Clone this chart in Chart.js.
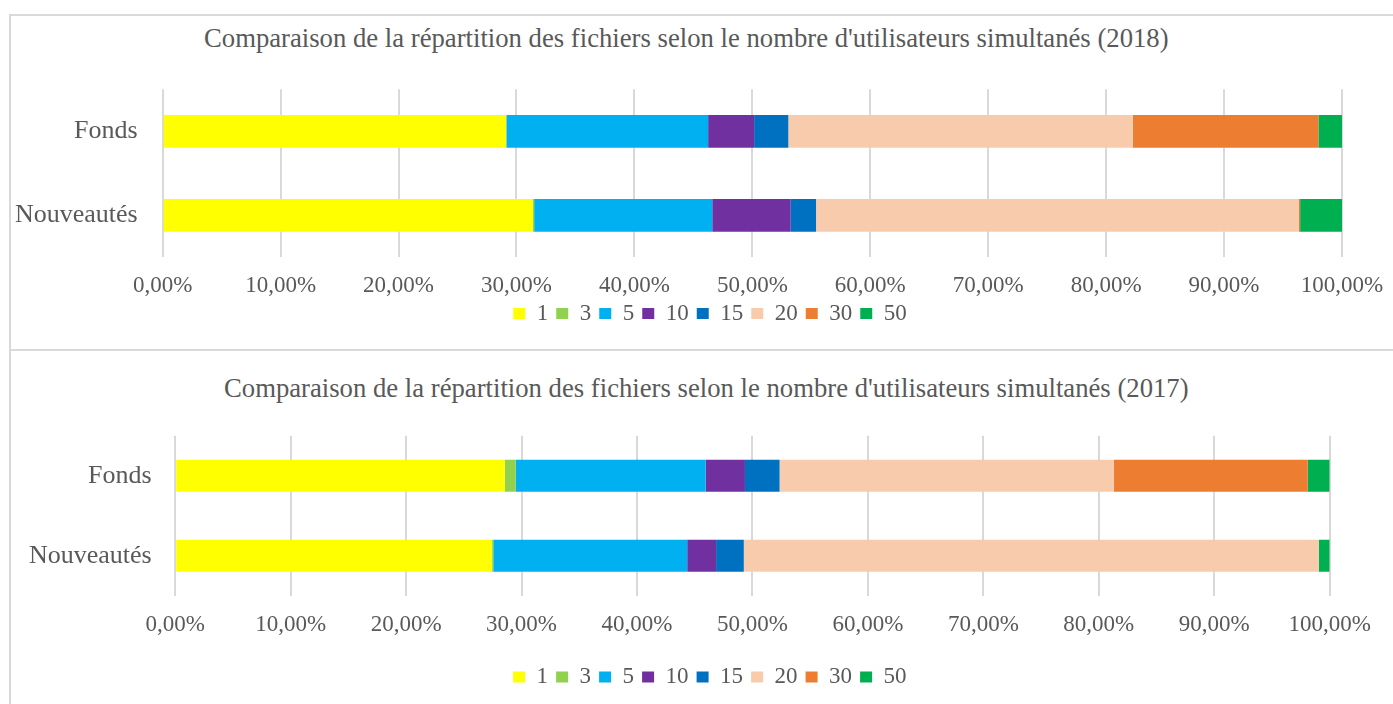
<!DOCTYPE html>
<html lang="fr">
<head>
<meta charset="utf-8">
<title>Répartition des fichiers</title>
<script src="https://cdn.jsdelivr.net/npm/chart.js@4.4.1/dist/chart.umd.min.js"></script>
<style>
  body { margin: 0; width: 1393px; height: 704px; overflow: hidden; background: #fff; font-family: "Liberation Serif", "Times New Roman", serif; }
  .frame { position: absolute; border: 2px solid #d9d9d9; box-sizing: border-box; }
  .title { position: absolute; white-space: nowrap; color: #595959; font-size: 26.7px; line-height: 30px; }
  .wrap { position: absolute; }
</style>
</head>
<body>
<div class="frame" style="left:9px; top:14px; width:1420px; height:337px;"></div>
<div class="frame" style="left:9px; top:349px; width:1420px; height:400px;"></div>

<div class="title" style="left:204px; top:23px;">Comparaison de la répartition des fichiers selon le nombre d'utilisateurs simultanés (2018)</div>
<div class="wrap" style="left:10px; top:16px; width:1400px; height:334px;"><canvas id="chart2018"></canvas></div>

<div class="title" style="left:224px; top:373px;">Comparaison de la répartition des fichiers selon le nombre d'utilisateurs simultanés (2017)</div>
<div class="wrap" style="left:10px; top:351px; width:1400px; height:353px;"><canvas id="chart2017"></canvas></div>

<script>
// Données (en %)
const categories = ['Fonds', 'Nouveautés'];
const seriesNames = ['1', '3', '5', '10', '15', '20', '30', '50'];
const tickValues = [0, 10, 20, 30, 40, 50, 60, 70, 80, 90, 100];

const fonds2018 = [29.1, 0.05, 17.1, 3.9, 2.9, 29.2, 15.75, 2.0];
const nouveautes2018 = [31.4, 0.1, 15.1, 6.65, 2.15, 40.95, 0.1, 3.55];

const fonds2017 = [28.55, 0.95, 16.45, 3.4, 3.0, 28.95, 16.8, 1.9];
const nouveautes2017 = [27.45, 0.1, 16.8, 2.5, 2.4, 49.8, 0, 0.95];

// Couleurs Office
const seriesColors = ['#FFFF00', '#92D050', '#00B0F0', '#7030A0', '#0070C0', '#F8CBAD', '#ED7D31', '#00B050'];

const FONT = "'Liberation Serif', 'Times New Roman', serif";
const TEXT = '#595959';

const formatPct = (v) => Number(v).toFixed(2).replace('.', ',') + '%';

// décale la légende (centrée sur tout le cadre comme dans Excel, pas sur le canvas)
const legendShift = {
    id: 'legendShift',
    afterLayout(chart, args, opts) {
        const lg = chart.legend;
        if (!lg) return;
        lg.left += opts.dx; lg.right += opts.dx;
        lg.top += opts.dy; lg.bottom += opts.dy;
    }
};

function makeChart(id, fondsVals, nouvVals, lay) {
    const ctx = document.getElementById(id).getContext('2d');
    return new Chart(ctx, {
        type: 'bar',
        data: {
            labels: categories,
            datasets: seriesNames.map((name, i) => ({
                label: name,
                data: [fondsVals[i], nouvVals[i]],
                backgroundColor: seriesColors[i],
                borderWidth: 0,
                barPercentage: lay.barPct,
                categoryPercentage: 1
            }))
        },
        plugins: [legendShift],
        options: {
            indexAxis: 'y',
            responsive: true,
            maintainAspectRatio: false,
            animation: false,
            layout: { padding: { top: lay.top, left: 0, right: lay.right, bottom: lay.bottom } },
            plugins: {
                title: { display: false },
                legendShift: { dx: lay.dx, dy: lay.dy },
                legend: {
                    position: 'bottom',
                    labels: {
                        boxWidth: 12, boxHeight: 11, padding: 8,
                        color: TEXT,
                        font: { family: FONT, size: 23 }
                    }
                }
            },
            scales: {
                x: {
                    stacked: true, min: 0, max: 100,
                    grid: { color: '#d9d9d9', lineWidth: 2, drawTicks: false },
                    border: { display: false },
                    ticks: {
                        padding: lay.xPad, color: TEXT, maxRotation: 0, autoSkip: false,
                        font: { family: FONT, size: 23 },
                        callback: (v) => formatPct(v)
                    },
                    afterBuildTicks: (s) => { s.ticks = tickValues.map(v => ({ value: v })); },
                    afterFit: (s) => { s.height = lay.xH; }
                },
                y: {
                    stacked: true,
                    grid: { display: false, drawTicks: false },
                    border: { display: false },
                    ticks: { padding: lay.yPad, color: TEXT, font: { family: FONT, size: 26 } },
                    afterFit: (s) => { s.width = lay.yW; }
                }
            }
        }
    });
}

makeChart('chart2018', fonds2018, nouveautes2018,
    { top: 73.3, right: 68, bottom: 9.7, yW: 152.7, yPad: 25, xPad: 15, xH: 42, barPct: 0.39, dx: 34, dy: -5.3 });
makeChart('chart2017', fonds2017, nouveautes2017,
    { top: 84.8, right: 80.3, bottom: 10.5, yW: 165.2, yPad: 23.5, xPad: 15.4, xH: 56.7, barPct: 0.4, dx: 40, dy: 5 });
</script>
</body>
</html>
